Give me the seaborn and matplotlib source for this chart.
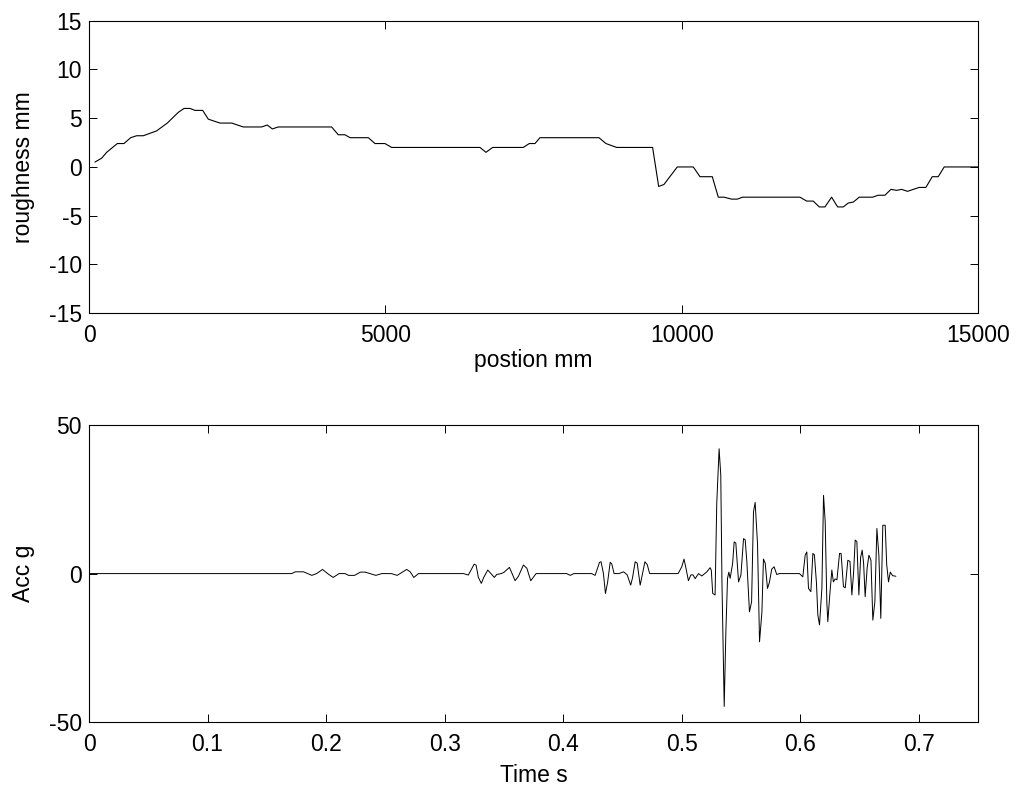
import numpy as np
import pandas as pd
import matplotlib
matplotlib.use("Agg")
import matplotlib.pyplot as plt
import seaborn as sns

# road roughness profile (position mm -> roughness mm)
pos_mm = [100, 214, 298, 478, 590, 703, 804, 916, 1141, 1321, 1507, 1603, 1704, 1788,
          1918, 2013, 2210, 2408, 2603, 2913, 3008, 3093, 3194, 4094, 4206, 4319, 4404,
          4713, 4826, 4994, 5107, 6597, 6698, 6811, 7327, 7429, 7525, 7609, 8605, 8723,
          8903, 9510, 9612, 9701, 9926, 10196, 10309, 10517, 10618, 10714, 10844, 10939,
          11029, 11996, 12109, 12220, 12322, 12418, 12530, 12632, 12727, 12811, 12896,
          12997, 13222, 13317, 13430, 13531, 13627, 13711, 13812, 13907, 14008, 14121,
          14228, 14329, 14430, 15000]
rough_mm = [0.5, 0.9, 1.5, 2.4, 2.4, 3.0, 3.2, 3.2, 3.7, 4.5, 5.6, 6.0, 6.0, 5.8,
            5.8, 4.9, 4.5, 4.5, 4.1, 4.1, 4.3, 3.9, 4.1, 4.1, 3.3, 3.3, 3.0,
            3.0, 2.4, 2.4, 2.0, 2.0, 1.5, 2.0, 2.0, 2.4, 2.4, 3.0, 3.0, 2.4,
            2.0, 2.0, -2.0, -1.8, 0.0, 0.0, -1.0, -1.0, -3.1, -3.1, -3.3, -3.3,
            -3.1, -3.1, -3.5, -3.5, -4.1, -4.1, -3.1, -4.1, -4.1, -3.7, -3.6,
            -3.1, -3.1, -2.9, -2.9, -2.3, -2.4, -2.3, -2.5, -2.3, -2.1, -2.1,
            -1.0, -1.0, 0.0, 0.0]

# acceleration response (time s -> acc g)
time_s = [0.0, 0.171, 0.174, 0.181, 0.188, 0.192, 0.197, 0.202, 0.206, 0.211, 0.216,
          0.219, 0.224, 0.229, 0.233, 0.237, 0.242, 0.247, 0.255, 0.260, 0.268, 0.271,
          0.274, 0.278, 0.316, 0.320, 0.322, 0.325, 0.3266, 0.3285, 0.331, 0.333,
          0.3364, 0.3384, 0.342, 0.344, 0.3477, 0.350, 0.3547, 0.3595, 0.3623, 0.3665,
          0.3694, 0.3727, 0.3772, 0.403, 0.406, 0.409, 0.424, 0.427, 0.4307, 0.432,
          0.434, 0.4357, 0.4375, 0.4397, 0.441, 0.443, 0.447, 0.451, 0.454, 0.457,
          0.4585, 0.4608, 0.4625, 0.465, 0.467, 0.469, 0.471, 0.473, 0.497, 0.5001,
          0.502, 0.5038, 0.5057, 0.5077, 0.5095, 0.5114, 0.5142, 0.517, 0.5213, 0.524,
          0.525, 0.5262, 0.5282, 0.5296, 0.5316, 0.533, 0.534, 0.5359, 0.5373, 0.5387,
          0.5398, 0.5409, 0.543, 0.5443, 0.5457, 0.548, 0.550, 0.5522, 0.5536, 0.555,
          0.5572, 0.559, 0.5606, 0.562, 0.564, 0.5657, 0.5677, 0.569, 0.5705, 0.5724,
          0.574, 0.576, 0.578, 0.5802, 0.5825, 0.5994, 0.6022, 0.6042, 0.6056, 0.607,
          0.609, 0.6107, 0.612, 0.6137, 0.6149, 0.6163, 0.6183, 0.6197, 0.6211, 0.6225,
          0.6233, 0.625, 0.6267, 0.628, 0.6295, 0.631, 0.6332, 0.6345, 0.6365, 0.638,
          0.6402, 0.642, 0.6436, 0.645, 0.6464, 0.6478, 0.6495, 0.651, 0.6523, 0.6535,
          0.6548, 0.6565, 0.658, 0.6597, 0.6613, 0.663, 0.6647, 0.6664, 0.668, 0.6697,
          0.6717, 0.673, 0.6745, 0.676, 0.678, 0.6807]
acc_g = [0.0, 0.0, 0.6, 0.6, -0.6, 0.0, 1.4, -0.2, -1.3, 0.0, 0.0,
         -0.6, -0.6, 0.5, 0.5, 0.0, -0.6, 0.0, 0.0, -0.6, 1.4, 0.6,
         -1.3, 0.0, 0.0, -0.5, 1.0, 3.2, 2.8, -1.3, -3.3, -1.3,
         1.2, 0.3, -1.3, -0.3, 0.0, 0.4, 2.1, -2.4, -0.9, 2.9,
         1.8, -2.4, 0.0, 0.0, -0.6, 0.0, 0.0, -0.6, 3.8, 4.0,
         0.0, -6.7, -3.0, 3.8, 3.3, 0.0, 0.0, 0.6, -0.4, -3.9,
         -1.5, 4.0, 3.5, -3.9, 0.0, 4.0, 3.0, 0.0, 0.0, 2.3,
         4.9, 1.5, -2.4, -0.5, -0.4, -1.7, 0.0, -0.8, 0.6, 2.0,
         1.2, -6.7, -7.2, 23.6, 42.1, 33.2, -3.0, -44.8, -19.6, -1.6,
         0.5, -1.6, 3.4, 10.7, 10.3, -2.8, -0.5, 11.8, 11.4, 4.0,
         -12.9, -9.5, 20.8, 24.0, 10.0, -23.0, -13.0, 4.9, 3.5, -5.0,
         -3.0, 1.5, 2.3, -0.3, 0.0, 0.0, -1.1, 6.2, 7.3, -5.0,
         -6.1, 6.8, 6.3, -3.0, -14.0, -17.3, -5.0, 26.4, 17.4, -10.0,
         -16.2, -7.0, 1.2, -2.8, -1.8, -2.1, 6.8, 6.8, -4.4, -4.8,
         4.5, 4.1, -7.2, 0.0, 11.3, 10.8, -7.2, 5.5, 7.9, 3.5,
         -7.8, 2.0, 6.2, 4.5, -15.7, -9.5, 15.2, 6.0, -15.1, 16.3,
         16.3, 3.0, -2.8, 0.5, -0.7, -0.9]

sns.set_style("ticks")
plt.rcParams["font.family"] = ["Liberation Sans", "DejaVu Sans"]
plt.rcParams["axes.unicode_minus"] = False
plt.rcParams["axes.labelcolor"] = "black"
plt.rcParams["text.color"] = "black"
fs = 16.5

fig = plt.figure(figsize=(10.23, 7.95), dpi=100)
ax1 = fig.add_axes([0.087, 0.606, 0.869, 0.368])
ax2 = fig.add_axes([0.087, 0.092, 0.869, 0.373])

road = pd.DataFrame({"pos": pos_mm, "rough": rough_mm})
sns.lineplot(data=road, x="pos", y="rough", ax=ax1, color="black",
             linewidth=0.8, estimator=None, sort=False)
ax1.set_xlim(0, 15000)
ax1.set_ylim(-15, 15)
ax1.set_xticks([0, 5000, 10000, 15000])
ax1.set_yticks([-15, -10, -5, 0, 5, 10, 15])
ax1.set_xlabel("postion mm", fontsize=fs, labelpad=1, color="black")
ax1.set_ylabel("roughness mm", fontsize=fs, labelpad=10, color="black")

acc = pd.DataFrame({"t": time_s, "acc": acc_g})
sns.lineplot(data=acc, x="t", y="acc", ax=ax2, color="black",
             linewidth=0.7, estimator=None, sort=False)
ax2.set_xlim(0, 0.75)
ax2.set_ylim(-50, 50)
ax2.set_xticks([0, 0.1, 0.2, 0.3, 0.4, 0.5, 0.6, 0.7])
ax2.set_xticklabels(["0", "0.1", "0.2", "0.3", "0.4", "0.5", "0.6", "0.7"])
ax2.set_yticks([-50, 0, 50])
ax2.set_xlabel("Time s", fontsize=fs, labelpad=6, color="black")
ax2.set_ylabel("Acc g", fontsize=fs, labelpad=10, color="black")

for ax in (ax1, ax2):
    for s in ax.spines.values():
        s.set_visible(True)
        s.set_linewidth(0.8)
        s.set_color("black")
    ax.tick_params(direction="in", top=True, right=True, length=6, width=0.7,
                   labelsize=fs, colors="black", pad=5)
    ax.tick_params(axis="x", pad=8)

fig.savefig("out.png", dpi=100, facecolor="white")
